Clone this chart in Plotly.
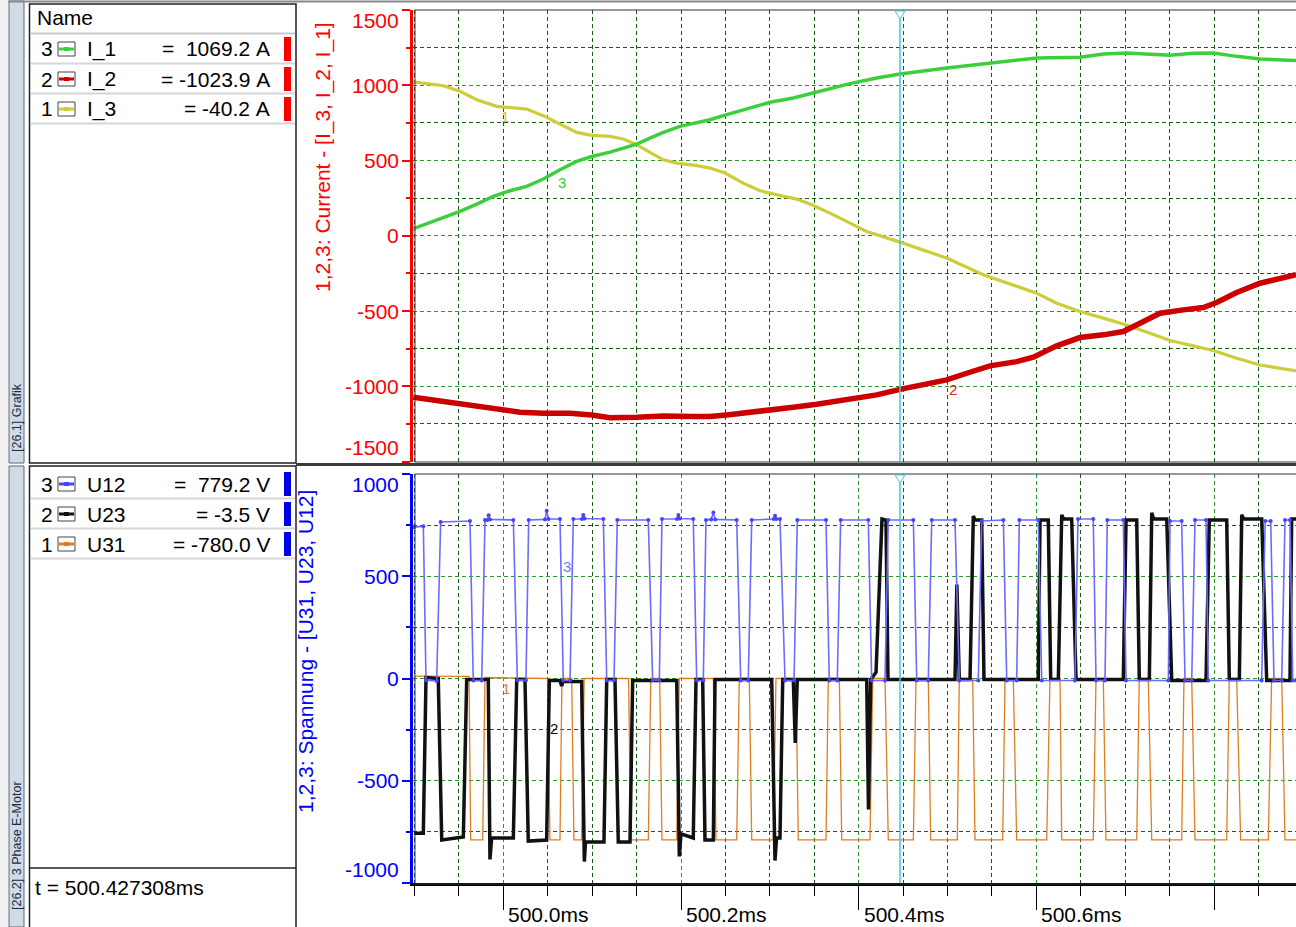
import plotly.graph_objects as go

W, H = 1296, 927
FONT = "Liberation Sans, Arial, sans-serif"

# ---------------- data (time in microseconds after 500.000 ms) ----------------
# Currents, upper chart
i3_us = [-101.3, -67.5, -48.7, -29.9, -7.4, 7.5, 26.3, 45.0, 63.8, 82.6, 99.5, 120.1, 135.1, 150.1, 165.1,
         180.1, 195.2, 213.8, 232.6, 249.5, 270.1, 288.9, 307.7, 330.2, 345.2, 367.7, 390.2, 409.0, 446.5,
         499.0, 540.2, 577.8, 600.3, 622.8, 649.1, 675.3, 701.6, 727.9, 750.4, 776.6, 799.1, 825.4, 851.7, 892.2]
i3_A = [1022, 997, 960, 904, 860, 853, 842, 798, 745, 687, 667, 660, 643, 605, 554,
        505, 483, 470, 450, 417, 350, 299, 273, 244, 211, 151, 84, 29, -42,
        -148, -259, -337, -381, -448, -503, -547, -592, -647, -696, -731, -762, -813, -858, -898]

i1_us = [-101.3, -67.5, -48.7, -29.9, -11.3, 7.5, 26.3, 45.0, 63.8, 82.6, 99.5, 120.1, 138.9, 150.1, 165.1,
         180.1, 198.9, 217.7, 232.6, 251.4, 270.1, 300.2, 326.4, 348.9, 371.4, 390.2, 420.3, 446.5, 499.0,
         551.5, 577.8, 600.3, 649.1, 675.3, 701.6, 727.9, 750.4, 776.6, 799.1, 825.4, 851.7, 892.2]
i1_A = [47, 117, 162, 211, 262, 299, 328, 377, 439, 494, 527, 556, 587, 609, 649,
        687, 727, 749, 771, 805, 838, 887, 915, 949, 982, 1011, 1048, 1075, 1115,
        1148, 1170, 1181, 1186, 1208, 1215, 1208, 1199, 1212, 1215, 1192, 1175, 1164]

i2_us = [-101.3, -67.5, -48.7, -11.3, 18.8, 45.0, 75.1, 99.5, 120.1, 150.1, 180.1, 213.8, 232.6, 251.4, 270.1,
         300.2, 326.4, 352.7, 390.2, 420.3, 446.5, 499.0, 521.6, 547.8, 577.8, 596.5, 622.8, 649.1, 675.3,
         697.8, 716.6, 739.1, 765.3, 787.8, 802.9, 825.4, 851.7, 892.2]
i2_A = [-1073, -1101, -1123, -1146, -1172, -1179, -1179, -1190, -1208, -1206, -1197, -1201, -1201, -1190, -1179,
        -1157, -1139, -1119, -1084, -1057, -1020, -957, -913, -864, -836, -807, -731, -676, -658,
        -636, -581, -514, -492, -477, -443, -377, -315, -259]

# Voltages, lower chart
u12_us = [-100.5, -90.0, -87.0, -75.0, -70.5, -37.5, -33.8, -24.3, -20.6, -18.0,
          -16.5, -15.0, 11.3, 15.8, 25.5, 28.6, 46.9, 48.8, 50.9, 63.8,
          67.5, 75.1, 78.8, 88.5, 90.0, 91.5, 112.6, 116.4, 124.6, 128.3,
          163.2, 168.1, 175.6, 178.6, 195.5, 197.0, 198.5, 213.8, 217.7, 225.1,
          228.1, 234.0, 236.4, 238.5, 262.7, 267.2, 275.7, 279.6, 304.3, 305.8,
          307.3, 311.4, 317.1, 327.2, 330.9, 363.2, 366.9, 375.9, 379.7, 410.8,
          414.6, 429.6, 433.3, 461.5, 465.3, 478.3, 482.2, 508.4, 513.2, 534.6,
          538.4, 562.8, 566.6, 577.8, 580.8, 602.1, 606.0, 643.4, 646.8, 664.0,
          667.1, 677.2, 679.8, 697.8, 700.9, 748.5, 750.4, 763.5, 767.3, 774.8,
          778.5, 790.9, 793.5, 853.5, 857.5, 863.7, 867.4, 876.1, 879.8, 885.4,
          888.5, 892.2]
u12_V = [740, 745, -8, -12, 765, 770, -10, -10, 775, 775,
         798, 778, 775, -8, -8, 775, 778, 820, 780, 780,
         -10, -10, 780, 780, 800, 782, 780, -10, -10, 775,
         775, -8, -8, 780, 780, 800, 782, 780, -10, -10,
         775, 778, 812, 778, 775, -10, -10, 775, 780, 796,
         780, 780, -10, -10, 775, 775, -10, -10, 775, 775,
         -10, -10, 775, 775, -10, -10, 775, 775, -10, -10,
         770, 775, -10, -10, 775, 775, -10, -10, 780, 780,
         -10, -10, 775, 775, -10, -10, 770, 770, -10, -10,
         775, 775, -10, -10, 770, 770, -10, -10, 775, 775,
         -10, -10]

u23_us = [-100.5, -90.0, -87.0, -73.2, -69.3, -45.0, -41.2, -16.9, -15.0, -13.1,
          11.3, 15.1, 24.4, 28.1, 48.8, 51.8, 63.8, 65.7, 67.2, 88.2,
          91.2, 92.5, 113.3, 116.4, 125.7, 129.4, 142.6, 145.6, 195.2, 198.1,
          200.0, 213.8, 216.9, 224.4, 227.0, 236.4, 238.3, 302.1, 305.8, 307.5,
          311.4, 314.5, 326.4, 328.6, 330.9, 409.0, 411.0, 413.5, 419.5, 426.2,
          430.7, 433.0, 508.4, 510.5, 513.2, 525.3, 529.0, 531.0, 538.4, 541.0,
          602.1, 604.1, 613.4, 616.1, 624.7, 628.5, 630.5, 639.7, 644.6, 697.8,
          700.9, 712.9, 715.8, 727.1, 729.8, 732.0, 746.7, 752.3, 790.9, 794.6,
          814.2, 817.1, 828.4, 831.1, 833.5, 853.6, 859.2, 885.4, 887.3, 892.2]
u23_V = [-757, -757, 5, 0, -790, -775, -5, -5, -885, -780,
         -780, -5, -5, -795, -790, -10, -10, -37, -15, -15,
         -895, -800, -800, -5, -5, -800, -800, -10, -10, -870,
         -760, -780, -5, -5, -790, -790, -5, -5, -890, -780,
         -780, -5, -5, -315, -5, -5, -640, -5, 30, 780,
         775, -5, -5, 460, -5, -5, 795, 775, 775, -5,
         -5, 775, 775, -5, -5, 800, 780, 780, -5, -5,
         775, 775, -5, -5, 810, 780, 780, -10, -10, 775,
         775, -5, -5, 800, 780, 780, -10, -10, 780, 780]

u31_us = [-100.5, -38.6, -36.7, -23.2, -20.6, 50.0, 52.5, 63.8, 66.0, 77.0,
          79.5, 88.2, 91.0, 141.0, 143.5, 163.2, 166.0, 176.0, 178.6, 195.2,
          198.0, 236.4, 239.4, 262.7, 265.6, 276.9, 279.6, 303.9, 306.9, 329.4,
          332.0, 363.2, 365.8, 378.2, 380.9, 412.7, 415.8, 429.6, 433.3, 461.5,
          464.5, 478.3, 481.0, 511.0, 513.2, 528.3, 530.9, 562.1, 564.7, 574.0,
          577.8, 611.6, 615.3, 626.6, 628.5, 664.0, 667.1, 675.3, 678.3, 712.9,
          715.8, 725.9, 729.8, 763.5, 766.1, 774.8, 778.5, 814.2, 817.1, 825.4,
          829.9, 861.0, 864.8, 876.1, 879.8, 892.2]
u31_V = [12, 10, -789, -789, 5, 0, -789, -789, 0, 0,
         -789, -789, 0, 0, -789, -789, 0, 0, -789, -789,
         0, 0, -789, -789, 0, 0, -789, -789, 0, 0,
         -789, -789, 0, 0, -789, -789, 0, 0, -789, -789,
         0, 0, -789, -789, 0, 0, -789, -789, 0, 0,
         -789, -789, 0, 0, -789, -789, 0, 0, -789, -789,
         0, 0, -789, -789, 0, 0, -789, -789, 0, 0,
         -789, -789, 0, 0, -789, -789]

# Axis / labels
x_range_ms = [499.89837, 500.89218]
x_tick_vals = [500.0, 500.2, 500.4, 500.6]
x_tick_text = ["500.0ms", "500.2ms", "500.4ms", "500.6ms"]
yi_tick_vals = [1500, 1000, 500, 0, -500, -1000, -1500]
yu_tick_vals = [1000, 500, 0, -500, -1000]
cursor_us = 446.5
cursor_label = "t = 500.427308ms"

top_nums = ["3", "2", "1"]
top_names = ["I_1", "I_2", "I_3"]
top_values = ["=\u00a0\u00a01069.2\u00a0A", "=\u00a0-1023.9\u00a0A", "=\u00a0-40.2\u00a0A"]
bot_nums = ["3", "2", "1"]
bot_names = ["U12", "U23", "U31"]
bot_values = ["=\u00a0\u00a0779.2\u00a0V", "=\u00a0-3.5\u00a0V", "=\u00a0-780.0\u00a0V"]

C_I1, C_I2, C_I3 = "#3ccf3c", "#cc0000", "#cdcd3a"
C_U12, C_U23, C_U31 = "#6b6bff", "#111111", "#e07d22"
C_U12_MK = "#4545ff"


def ms(us_list):
    return [500.0 + u / 1000.0 for u in us_list]


fig = go.Figure()
# upper chart
fig.add_trace(go.Scatter(x=ms(i3_us), y=i3_A, mode="lines", line=dict(color=C_I3, width=3.2),
                         xaxis="x", yaxis="y", hoverinfo="skip"))
fig.add_trace(go.Scatter(x=ms(i2_us), y=i2_A, mode="lines", line=dict(color=C_I2, width=5.5),
                         xaxis="x", yaxis="y", hoverinfo="skip"))
fig.add_trace(go.Scatter(x=ms(i1_us), y=i1_A, mode="lines", line=dict(color=C_I1, width=3.5),
                         xaxis="x", yaxis="y", hoverinfo="skip"))
# lower chart
fig.add_trace(go.Scatter(x=ms(u31_us), y=u31_V, mode="lines", line=dict(color=C_U31, width=1.3),
                         xaxis="x2", yaxis="y2", hoverinfo="skip"))
fig.add_trace(go.Scatter(x=ms(u23_us), y=u23_V, mode="lines", line=dict(color=C_U23, width=3.5),
                         xaxis="x2", yaxis="y2", hoverinfo="skip"))
fig.add_trace(go.Scatter(x=ms(u12_us), y=u12_V, mode="lines+markers",
                         line=dict(color=C_U12, width=1.6),
                         marker=dict(color=C_U12_MK, size=4),
                         xaxis="x2", yaxis="y2", hoverinfo="skip"))

# ---------------- helpers for pixel placement ----------------
shapes = []
annotations = []


def P(x, y):
    return x / W, 1 - y / H


def rect(x0, y0, x1, y1, line=None, fill=None, lw=1):
    a, b = P(x0, y0)
    c, d = P(x1, y1)
    shapes.append(dict(type="rect", xref="paper", yref="paper", x0=a, y0=d, x1=c, y1=b,
                       line=dict(color=line if line else "rgba(0,0,0,0)", width=lw if line else 0),
                       fillcolor=fill if fill else "rgba(0,0,0,0)", layer="above"))


def seg(x0, y0, x1, y1, color, lw):
    a, b = P(x0, y0)
    c, d = P(x1, y1)
    shapes.append(dict(type="line", xref="paper", yref="paper", x0=a, y0=b, x1=c, y1=d,
                       line=dict(color=color, width=lw), layer="above"))


def text(x, y, s, size=21, color="black", xanchor="left", angle=0):
    a, b = P(x, y)
    annotations.append(dict(xref="paper", yref="paper", x=a, y=b, text=s, showarrow=False,
                            xanchor=xanchor, yanchor="middle", textangle=angle,
                            font=dict(family=FONT, size=size, color=color)))


# left strip
rect(0, 0, 8, 927, fill="#f0f0f0")
rect(9, 1, 24, 463, line="#5a6878", fill="#d0dbe7", lw=1)
rect(9, 466, 24, 927, line="#5a6878", fill="#d0dbe7", lw=1)
text(17, 418, "[26.1] Grafik", size=12.5, color="#1c2b45", xanchor="center", angle=-90)
text(17, 846, "[26.2] 3 Phase E-Motor", size=12.5, color="#1c2b45", xanchor="center", angle=-90)

# legend tables
rect(29.5, 4, 296, 463, line="#222222", fill="white", lw=1.5)
rect(29.5, 466, 296, 868, line="#222222", fill="white", lw=1.5)
seg(29.5, 868, 29.5, 927, "#222222", 1.5)
seg(296, 868, 296, 927, "#222222", 1.5)
seg(31, 33.5, 295, 33.5, "#c9c9c9", 2)
for yy in (63.5, 93.5, 123.5):
    seg(31, yy, 295, yy, "#d6d6d6", 2)
for yy in (498.5, 528.5, 558.5):
    seg(31, yy, 295, yy, "#d6d6d6", 2)
text(35, 18, "Name")


def legend_row(yc, num, name, val, color, bar_color):
    text(39, yc, num)
    rect(58, yc - 7, 75, yc + 7, line="#444444", fill="white", lw=1)
    seg(59, yc, 74, yc, color, 3)
    rect(64, yc - 2, 69, yc + 2, fill=color)
    text(85, yc, name)
    text(272, yc, val, xanchor="right")
    rect(284, yc - 12, 291, yc + 12, fill=bar_color)


top_cols = [C_I1, C_I2, C_I3]
for k, yc in enumerate((49, 79, 109)):
    legend_row(yc, top_nums[k], top_names[k], top_values[k], top_cols[k], "#ff0000")
bot_cols = [C_U12_MK, C_U23, C_U31]
for k, yc in enumerate((484, 514, 544)):
    legend_row(yc, bot_nums[k], bot_names[k], bot_values[k], bot_cols[k], "#0000ee")
text(33, 887, cursor_label)

# plot frames and separators
seg(8, 1.5, 1296, 1.5, "#888888", 2)
rect(415, 10, 1300, 462, line="#333333", lw=1)
rect(415, 474, 1300, 884, line="#333333", lw=1)
seg(296, 464.5, 1296, 464.5, "#3a3a3a", 3)

# y-axis titles
text(323, 157, "1,2,3: Current - [I_3, I_2, I_1]", color="#ff0000", xanchor="center", angle=-90)
text(305, 652, "1,2,3: Spannung - [U31, U23, U12]", color="#0000ff", xanchor="center", angle=-90)


# y tick labels (end labels pulled inwards as in the original)
def ytick_labels(yref, vals, color):
    lo, hi = min(vals), max(vals)
    for v in vals:
        shift = -10 if v == hi else (14 if v == lo else 0)
        annotations.append(dict(xref="paper", yref=yref, x=P(401, 0)[0], y=v, text=str(v),
                                showarrow=False, xanchor="right", yanchor="middle", yshift=shift,
                                font=dict(family=FONT, size=21, color=color)))


ytick_labels("y", yi_tick_vals, "#ff0000")
ytick_labels("y2", yu_tick_vals, "#0000ff")

# cursor
cx = 500.0 + cursor_us / 1000.0
for xr, yr in (("x", "y domain"), ("x2", "y2 domain")):
    shapes.append(dict(type="line", xref=xr, yref=yr, x0=cx, x1=cx, y0=0, y1=1,
                       line=dict(color="#45c8d6", width=1.5), layer="above"))
for ytop in (10, 474):
    a1, b1 = P(895, ytop + 1)
    a2, b2 = P(905, ytop + 1)
    a3, b3 = P(900, ytop + 9)
    shapes.append(dict(type="path", xref="paper", yref="paper",
                       path=f"M {a1},{b1} L {a2},{b2} L {a3},{b3} Z",
                       line=dict(color="#45c8d6", width=1), fillcolor="white", layer="above"))


# curve number labels
def curve_label(xr, yr, t_us, val, s, color):
    annotations.append(dict(xref=xr, yref=yr, x=500.0 + t_us / 1000.0, y=val, text=s,
                            showarrow=False, xanchor="center", yanchor="middle",
                            font=dict(family=FONT, size=15, color=color)))


curve_label("x", "y", 2.0, 791, "1", "#c8c830")
curve_label("x", "y", 66.0, 352, "3", "#33cc33")
curve_label("x", "y", 506.0, -1024, "2", "#dd2222")
curve_label("x2", "y2", 71.5, 548, "3", "#7a7aff")
curve_label("x2", "y2", 3.0, -51, "1", "#e07d22")
curve_label("x2", "y2", 57.0, -246, "2", "#111111")

# x tick labels (to the right of the long ticks)
for v, s in zip(x_tick_vals, x_tick_text):
    annotations.append(dict(xref="x2", yref="paper", x=v, y=P(0, 914)[1], text=s, showarrow=False,
                            xanchor="left", yanchor="middle", xshift=3,
                            font=dict(family=FONT, size=21, color="black")))

GRID_MAJ = "#2f962f"
GRID_MIN = "#145f14"
DASH = "4px,3px"
xdom = [413 / W, 1.0]

fig.update_layout(
    width=W, height=H, autosize=False,
    margin=dict(l=0, r=0, t=0, b=0, pad=0, autoexpand=False),
    paper_bgcolor="white", plot_bgcolor="white",
    showlegend=False,
    font=dict(family=FONT),
    xaxis=dict(domain=xdom, range=x_range_ms, anchor="y", showticklabels=False, ticks="",
               automargin=False,
               tickmode="linear", tick0=500.0, dtick=0.1,
               showgrid=True, gridcolor=GRID_MIN, griddash=DASH, gridwidth=1,
               minor=dict(tickmode="linear", tick0=500.0, dtick=0.05, showgrid=True,
                          gridcolor=GRID_MIN, griddash=DASH, ticks=""),
               zeroline=False, showline=False),
    xaxis2=dict(domain=xdom, range=x_range_ms, anchor="y2", showticklabels=False,
                automargin=False,
                tickmode="linear", tick0=500.0, dtick=0.2, ticks="outside", ticklen=24,
                tickwidth=1, tickcolor="black",
                showgrid=True, gridcolor=GRID_MAJ, griddash=DASH, gridwidth=1,
                minor=dict(tickmode="linear", tick0=500.0, dtick=0.05, ticks="outside", ticklen=10,
                           tickcolor="black", tickwidth=1, showgrid=True,
                           gridcolor=GRID_MIN, griddash=DASH),
                zeroline=False, showline=True, linecolor="black", linewidth=3),
    yaxis=dict(domain=[1 - 461.6 / H, 1 - 10 / H], range=[-1500, 1500], anchor="x",
               automargin=False, showticklabels=False,
               tickmode="linear", tick0=0, dtick=500, ticks="outside", ticklen=8,
               tickcolor="#ff0000", tickwidth=1.5,
               showgrid=True, gridcolor=GRID_MAJ, griddash=DASH, gridwidth=1,
               minor=dict(tickmode="linear", tick0=0, dtick=250, ticks="outside", ticklen=4,
                          tickcolor="#ff0000", showgrid=True, gridcolor=GRID_MIN, griddash=DASH),
               zeroline=False, showline=True, linecolor="#ff0000", linewidth=2.5),
    yaxis2=dict(domain=[1 - 883 / H, 1 - 474 / H], range=[-1000, 1000], anchor="x2",
                automargin=False, showticklabels=False,
                tickmode="linear", tick0=0, dtick=500, ticks="outside", ticklen=8,
                tickcolor="#0000ff", tickwidth=1.5,
                showgrid=True, gridcolor=GRID_MAJ, griddash=DASH, gridwidth=1,
                minor=dict(tickmode="linear", tick0=0, dtick=250, ticks="outside", ticklen=4,
                           tickcolor="#0000ff", showgrid=True, gridcolor=GRID_MIN, griddash=DASH),
                zeroline=False, showline=True, linecolor="#0000ff", linewidth=2.5),
    shapes=shapes,
    annotations=annotations,
)

fig.write_html("out.html", config={"displayModeBar": False},
               post_script="document.body.style.margin='0';document.body.style.overflow='hidden';")
